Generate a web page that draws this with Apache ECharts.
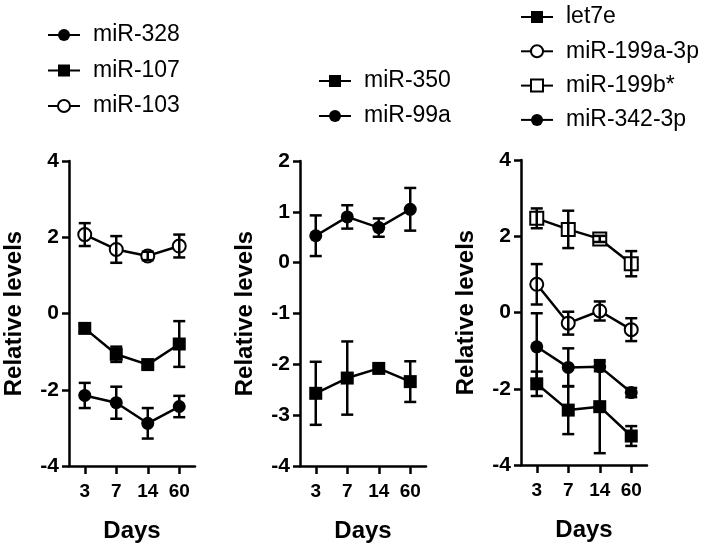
<!DOCTYPE html>
<html>
<head>
<meta charset="utf-8">
<script src="https://cdn.jsdelivr.net/npm/echarts@6/dist/echarts.min.js"></script>
<style>
html,body{margin:0;padding:0;background:#fff;}
#chart{width:711px;height:551px;}
</style>
</head>
<body>
<div id="chart"></div>
<script>
// ---- data ----
const days = ['3', '7', '14', '60'];

// Panel 1
const miR328 = [-2.15, -2.34, -2.88, -2.44];
const miR328Err = [0.33, 0.42, 0.40, 0.28];
const miR107 = [-0.39, -1.07, -1.34, -0.80];
const miR107Err = [0.10, 0.20, 0.08, 0.60];
const miR103 = [2.07, 1.68, 1.51, 1.77];
const miR103Err = [0.30, 0.35, 0.11, 0.30];

// Panel 2
const miR350 = [-2.57, -2.27, -2.08, -2.34];
const miR350Err = [0.62, 0.72, 0.05, 0.40];
const miR99a = [0.53, 0.90, 0.69, 1.05];
const miR99aErr = [0.40, 0.23, 0.18, 0.42];

// Panel 3
const let7e = [-1.87, -2.56, -2.47, -3.24];
const let7eErr = [0.32, 0.63, 1.22, 0.26];
const miR199a3p = [0.74, -0.28, 0.04, -0.45];
const miR199a3pErr = [0.53, 0.30, 0.25, 0.30];
const miR199b = [2.47, 2.18, 1.93, 1.28];
const miR199bErr = [0.26, 0.49, 0.08, 0.33];
const miR342 = [-0.90, -1.44, -1.42, -2.10];
const miR342Err = [0.88, 0.50, 0.12, 0.12];

// y-axis ranges
const yRanges = [
  {min: -4, max: 4, interval: 2},
  {min: -4, max: 2, interval: 1},
  {min: -4, max: 4, interval: 2}
];

// ---- styling ----
const FONT = "'Liberation Sans', Arial, sans-serif";
const LW = 2.5;

function errData(vals, errs) {
  return vals.map((v, i) => [i, v - errs[i], v + errs[i]]);
}

function errRender(params, api) {
  const x = api.value(0);
  const lo = api.coord([x, api.value(1)]);
  const hi = api.coord([x, api.value(2)]);
  const w = 6;
  const st = {stroke: '#000', lineWidth: LW};
  return {
    type: 'group',
    children: [
      {type: 'line', shape: {x1: hi[0], y1: hi[1], x2: lo[0], y2: lo[1]}, style: st},
      {type: 'line', shape: {x1: hi[0] - w, y1: hi[1], x2: hi[0] + w, y2: hi[1]}, style: st},
      {type: 'line', shape: {x1: lo[0] - w, y1: lo[1], x2: lo[0] + w, y2: lo[1]}, style: st}
    ]
  };
}

function lineSeries(name, data, symbol, gi) {
  const empty = symbol.indexOf('empty') === 0;
  return {
    name: name, type: 'line', data: data,
    xAxisIndex: gi, yAxisIndex: gi,
    symbol: symbol, symbolSize: 13,
    showAllSymbol: true,
    lineStyle: {color: '#000', width: LW},
    itemStyle: {color: '#000', borderColor: '#000', borderWidth: empty ? 2.2 : 0},
    emphasis: {disabled: true},
    animation: false, z: 2
  };
}

function errSeries(vals, errs, gi) {
  return {
    type: 'custom', renderItem: errRender, data: errData(vals, errs),
    xAxisIndex: gi, yAxisIndex: gi, z: 3, animation: false, silent: true
  };
}

const grids = [
  {left: 69, top: 161, width: 126, height: 305},
  {left: 300, top: 161, width: 126, height: 305},
  {left: 521, top: 160, width: 126, height: 305}
];

const xAxes = grids.map((g, i) => ({
  type: 'category', gridIndex: i, data: days, boundaryGap: true,
  axisLine: {show: true, onZero: false, lineStyle: {color: '#000', width: LW}},
  axisTick: {show: true, alignWithLabel: true, length: 8, lineStyle: {color: '#000', width: LW}},
  axisLabel: {color: '#000', fontSize: 19, fontWeight: 'bold', fontFamily: FONT, margin: 16},
  splitLine: {show: false},
  name: 'Days', nameLocation: 'middle', nameGap: 53,
  nameTextStyle: {color: '#000', fontSize: 24, fontWeight: 'bold', fontFamily: FONT}
}));

const yAxes = grids.map((g, i) => ({
  type: 'value', gridIndex: i,
  min: yRanges[i].min, max: yRanges[i].max, interval: yRanges[i].interval,
  axisLine: {show: true, onZero: false, lineStyle: {color: '#000', width: LW}},
  axisTick: {show: true, length: 7, lineStyle: {color: '#000', width: LW}},
  axisLabel: {color: '#000', fontSize: 21, fontWeight: 'bold', fontFamily: FONT, margin: 10},
  splitLine: {show: false},
  name: 'Relative levels', nameLocation: 'middle', nameGap: 43,
  nameTextStyle: {color: '#000', fontSize: 24, fontWeight: 'bold', fontFamily: FONT}
}));

function legend(names, left, top, gap) {
  return {
    orient: 'vertical', left: left, top: top, data: names,
    itemWidth: 32, itemHeight: 15, itemGap: gap,
    selectedMode: false,
    textStyle: {color: '#000', fontSize: 23, fontFamily: FONT, lineHeight: 24, padding: [0, 0, 0, 8]}
  };
}

const option = {
  backgroundColor: '#fff',
  animation: false,
  grid: grids,
  xAxis: xAxes,
  yAxis: yAxes,
  legend: [
    legend(['miR-328', 'miR-107', 'miR-103'], 42, 18, 11.5),
    legend(['miR-350', 'miR-99a'], 313, 64, 11),
    legend(['let7e', 'miR-199a-3p', 'miR-199b*', 'miR-342-3p'], 515, 0, 10.3)
  ],
  series: [
    lineSeries('miR-328', miR328, 'circle', 0),
    lineSeries('miR-107', miR107, 'rect', 0),
    lineSeries('miR-103', miR103, 'emptyCircle', 0),
    errSeries(miR328, miR328Err, 0),
    errSeries(miR107, miR107Err, 0),
    errSeries(miR103, miR103Err, 0),

    lineSeries('miR-350', miR350, 'rect', 1),
    lineSeries('miR-99a', miR99a, 'circle', 1),
    errSeries(miR350, miR350Err, 1),
    errSeries(miR99a, miR99aErr, 1),

    lineSeries('let7e', let7e, 'rect', 2),
    lineSeries('miR-199a-3p', miR199a3p, 'emptyCircle', 2),
    lineSeries('miR-199b*', miR199b, 'emptyRect', 2),
    lineSeries('miR-342-3p', miR342, 'circle', 2),
    errSeries(let7e, let7eErr, 2),
    errSeries(miR199a3p, miR199a3pErr, 2),
    errSeries(miR199b, miR199bErr, 2),
    errSeries(miR342, miR342Err, 2)
  ]
};

const chart = echarts.init(document.getElementById('chart'), null, {renderer: 'canvas'});
chart.setOption(option);
</script>
</body>
</html>
